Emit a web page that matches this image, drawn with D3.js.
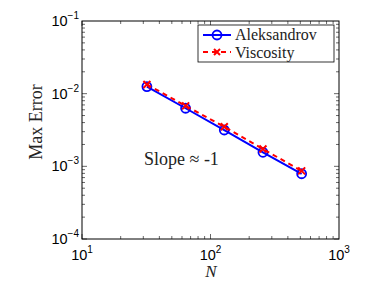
<!DOCTYPE html>
<html><head><meta charset="utf-8">
<script src="https://cdn.jsdelivr.net/npm/d3@7/dist/d3.min.js"></script>
<style>body{margin:0;background:#fff;}svg{display:block;}</style>
</head><body>
<script>
const N = [32, 64, 128, 256, 512];
const aleksandrov = [0.0125, 0.0063, 0.00316, 0.00156, 0.00079];
const viscosity = [0.0134, 0.0068, 0.0035, 0.00173, 0.000865];
const xTickExps = [1, 2, 3];
const yTickExps = [-1, -2, -3, -4];
const seriesNames = ["Aleksandrov", "Viscosity"];

const W = 374, H = 281;
const m = {l: 82, t: 21, r: 339, b: 239};
const svg = d3.select("body").append("svg").attr("width", W).attr("height", H);
const x = d3.scaleLog().domain([10, 1000]).range([m.l, m.r]);
const y = d3.scaleLog().domain([1e-4, 1e-1]).range([m.b, m.t]);

// minor & major ticks
const g = svg.append("g").attr("stroke", "#000").attr("stroke-width", 0.6);
for (let e = 1; e < 3; e++) for (let k = 1; k < 10; k++) {
  const v = k * Math.pow(10, e), len = k === 1 ? 5 : 3, X = x(v);
  g.append("line").attr("x1", X).attr("x2", X).attr("y1", m.b).attr("y2", m.b - len);
  g.append("line").attr("x1", X).attr("x2", X).attr("y1", m.t).attr("y2", m.t + len);
}
for (let e = -4; e < -1; e++) for (let k = 1; k < 10; k++) {
  const v = k * Math.pow(10, e), len = k === 1 ? 5 : 3, Y = y(v);
  g.append("line").attr("y1", Y).attr("y2", Y).attr("x1", m.l).attr("x2", m.l + len);
  g.append("line").attr("y1", Y).attr("y2", Y).attr("x1", m.r).attr("x2", m.r - len);
}
svg.append("rect").attr("x", m.l).attr("y", m.t).attr("width", m.r - m.l).attr("height", m.b - m.t)
  .attr("fill", "none").attr("stroke", "#000").attr("stroke-width", 1);

// tick labels
const tf = "Liberation Sans, Arial, sans-serif";
xTickExps.forEach(e => {
  const t = svg.append("text").attr("x", x(Math.pow(10, e))).attr("y", 260).attr("text-anchor", "middle")
    .attr("font-family", tf).attr("font-size", 14.5);
  t.append("tspan").text("10");
  t.append("tspan").attr("dy", -7).attr("font-size", 10).text(e);
});
yTickExps.forEach(e => {
  const t = svg.append("text").attr("x", 79).attr("y", y(Math.pow(10, e)) + 5).attr("text-anchor", "end")
    .attr("font-family", tf).attr("font-size", 14.5);
  t.append("tspan").text("10");
  t.append("tspan").attr("dy", -7).attr("font-size", 10).text("\u2212" + Math.abs(e));
});

const sf = "'Liberation Serif', 'DejaVu Serif', serif";
svg.append("text").attr("x", 211).attr("y", 277).attr("text-anchor", "middle")
  .attr("font-family", sf).attr("font-style", "italic").attr("font-size", 17).attr("fill", "#222").text("N");
svg.append("text").attr("transform", "translate(42,122) rotate(-90)").attr("text-anchor", "middle")
  .attr("font-family", sf).attr("font-size", 18).attr("fill", "#222").text("Max Error");
svg.append("text").attr("x", 144).attr("y", 165).attr("font-family", sf).attr("font-size", 18)
  .attr("fill", "#222").text("Slope \u2248 -1");

const line = d3.line().x(d => x(d[0])).y(d => y(d[1]));
const blue = "#0000ff", red = "#ff0000";
const dataA = N.map((n, i) => [n, aleksandrov[i]]);
const dataV = N.map((n, i) => [n, viscosity[i]]);

svg.append("path").datum(dataA).attr("d", line).attr("fill", "none").attr("stroke", blue).attr("stroke-width", 2);
svg.selectAll(".ca").data(dataA).join("circle").attr("cx", d => x(d[0])).attr("cy", d => y(d[1])).attr("r", 4.5)
  .attr("fill", "none").attr("stroke", blue).attr("stroke-width", 1.8);
svg.append("path").datum(dataV).attr("d", line).attr("fill", "none").attr("stroke", red).attr("stroke-width", 2)
  .attr("stroke-dasharray", "5,4");
const cross = (sel, cx, cy, s) => sel.append("path")
  .attr("d", `M${cx - s},${cy - s}L${cx + s},${cy + s}M${cx - s},${cy + s}L${cx + s},${cy - s}`)
  .attr("stroke", red).attr("stroke-width", 2).attr("fill", "none");
dataV.forEach(d => cross(svg, x(d[0]), y(d[1]), 3.5));

// legend
const lg = svg.append("g");
lg.append("rect").attr("x", 198).attr("y", 25).attr("width", 136).attr("height", 37)
  .attr("fill", "#fff").attr("stroke", "#000").attr("stroke-width", 0.8);
lg.append("line").attr("x1", 203).attr("x2", 231).attr("y1", 35).attr("y2", 35).attr("stroke", blue).attr("stroke-width", 2);
lg.append("circle").attr("cx", 217).attr("cy", 35).attr("r", 4.5).attr("fill", "none").attr("stroke", blue).attr("stroke-width", 1.8);
lg.append("line").attr("x1", 203).attr("x2", 231).attr("y1", 52).attr("y2", 52).attr("stroke", red).attr("stroke-width", 2).attr("stroke-dasharray", "5,4");
cross(lg, 217, 52, 3);
lg.append("text").attr("x", 235).attr("y", 40).attr("font-family", sf).attr("font-size", 16).attr("fill", "#222").text(seriesNames[0]);
lg.append("text").attr("x", 235).attr("y", 58).attr("font-family", sf).attr("font-size", 16).attr("fill", "#222").text(seriesNames[1]);
</script>
</body></html>
